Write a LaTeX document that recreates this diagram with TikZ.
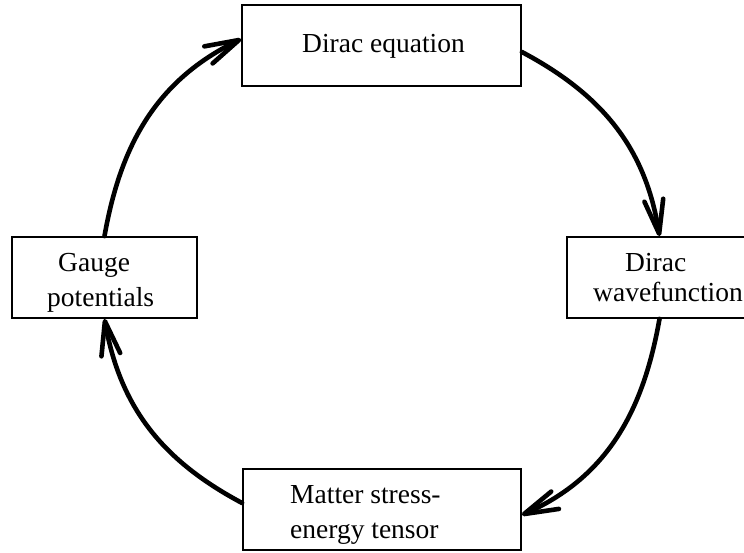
\documentclass[tikz,border=0pt]{standalone}
\usepackage{fontspec}
\setmainfont{Liberation Serif}
\usetikzlibrary{arrows.meta}
\begin{document}
\begin{tikzpicture}[x=1pt,y=1pt,
  box/.style={draw, line width=1.8pt, rectangle, inner sep=0pt, minimum height=81pt},
  txt/.style={anchor=base west, inner sep=0pt, font=\fontsize{27.5}{33}\selectfont},
  flow/.style={line width=4.6pt, line cap=round, -{Straight Barb[length=34pt,width=19pt,round]}}]
\useasboundingbox (0,0) rectangle (744,552);
\clip (0,0) rectangle (744,552);
\node[box, minimum width=279pt] (top) at (381.5,506.5) {};
\node[box, minimum width=185pt] (right) at (659.5,274.5) {};
\node[box, minimum width=278pt] (bottom) at (382,42.5) {};
\node[box, minimum width=185pt] (left) at (104.5,274.5) {};
\node[txt] (t1) at (302,499) {Dirac equation};
\node[txt] (t2) at (625,280) {Dirac};
\node[txt] (t3) at (593,250) {wavefunction};
\node[txt] (t4) at (290,49) {Matter stress-};
\node[txt] (t5) at (290,14) {energy tensor};
\node[txt] (t6) at (58,280) {Gauge};
\node[txt] (t7) at (47,245) {potentials};
\draw[flow] ([yshift=-6.5pt]top.east) to[out=-28, in=99] (right.north);
\draw[flow] (right.south) to[out=-100, in=24] ([yshift=-5.5pt]bottom.east);
\draw[flow] ([yshift=6.5pt]bottom.west) to[out=152, in=-80] (left.south);
\draw[flow] (left.north) to[out=80, in=206] ([yshift=6.5pt]top.west);
\end{tikzpicture}
\end{document}
